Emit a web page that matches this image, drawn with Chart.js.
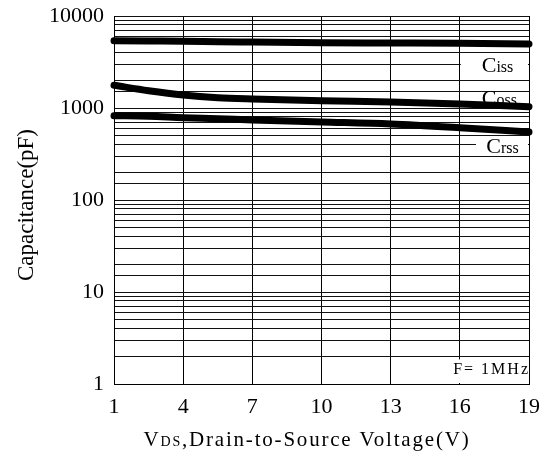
<!DOCTYPE html>
<html>
<head>
<meta charset="utf-8">
<script src="https://cdn.jsdelivr.net/npm/chart.js@4.4.0/dist/chart.umd.min.js"></script>
<style>
  html, body { margin: 0; padding: 0; background: #fff; }
  #wrap { width: 544px; height: 459px; }
</style>
</head>
<body>
<div id="wrap"><canvas id="cap"></canvas></div>
<script>
// drain-source voltage (V)
const vds = [1, 2.5, 4, 5.5, 7, 10, 13, 16, 19];
// capacitance (pF)
const ciss = [5390, 5350, 5310, 5260, 5215, 5125, 5090, 5050, 4960];
const coss = [1765, 1542, 1384, 1294, 1253, 1200, 1162, 1105, 1033];
const crss = [825, 814, 785, 765, 741, 705, 670, 611, 548];
const xTicks = [1, 4, 7, 10, 13, 16, 19];
const yLabels = [1, 10, 100, 1000, 10000];

function pts(vals) {
  return vds.map((v, i) => ({ x: v, y: vals[i] }));
}

function lineSet(name, vals) {
  return {
    label: name,
    data: pts(vals),
    borderColor: '#000',
    borderWidth: 7,
    borderCapStyle: 'round',
    pointRadius: 0,
    cubicInterpolationMode: 'monotone',
    clip: false
  };
}

const serif = 'Liberation Serif, Times New Roman, serif';

function subText(ctx, x, y, main, sub, mainSize, subSize) {
  ctx.font = mainSize + 'px ' + serif;
  ctx.fillText(main, x, y);
  const w = ctx.measureText(main).width;
  ctx.font = subSize + 'px ' + serif;
  ctx.fillText(sub, x + w, y);
}

const labelPlugin = {
  id: 'capLabels',
  beforeDatasetsDraw(chart) {
    const ctx = chart.ctx;
    const x = chart.scales.x, y = chart.scales.y;
    const px = v => x.getPixelForValue(v), py = v => y.getPixelForValue(v);
    ctx.save();
    ctx.fillStyle = '#fff';
    // label boxes hide the grid under the text
    ctx.fillRect(px(16) + 1, py(3800), px(19) - px(16) - 2, py(2150) - py(3800));
    ctx.fillRect(px(16.7), py(470), px(19) - px(16.7) - 1, py(330) - py(470));
    ctx.fillRect(px(15.3), py(1.85), px(19) - px(15.3) - 1, py(1) - py(1.85) - 1);

    ctx.fillStyle = '#000';
    ctx.textBaseline = 'alphabetic';
    ctx.textAlign = 'left';
    subText(ctx, px(16.95), py(2460), 'C', 'iss', 22, 16);
    subText(ctx, px(16.95), py(1090), 'C', 'oss', 22, 16);
    subText(ctx, px(17.15), py(324), 'C', 'rss', 22, 16);

    ctx.textAlign = 'right';
    ctx.letterSpacing = '2px';
    ctx.font = '16px ' + serif;
    ctx.fillText('F= 1MHz', px(19) + 1, py(1.27));
    ctx.restore();
  },
  afterDraw(chart) {
    const ctx = chart.ctx;
    ctx.save();
    ctx.fillStyle = '#000';
    ctx.textBaseline = 'middle';

    // y axis title
    ctx.save();
    ctx.translate(27, 205);
    ctx.rotate(-Math.PI / 2);
    ctx.textAlign = 'center';
    ctx.font = '23px ' + serif;
    ctx.fillText('Capacitance(pF)', 0, 0);
    ctx.restore();

    // x axis title, with small "DS"
    ctx.textAlign = 'left';
    ctx.letterSpacing = '1.8px';
    const rest = ',Drain-to-Source Voltage(V)';
    ctx.font = '21px ' + serif;
    const wV = ctx.measureText('V').width;
    const wR = ctx.measureText(rest).width;
    ctx.font = '14px ' + serif;
    const wD = ctx.measureText('DS').width;
    const sx = 307 - (wV + wD + wR) / 2;
    const sy = 440;
    ctx.font = '21px ' + serif;
    ctx.fillText('V', sx, sy);
    ctx.font = '14px ' + serif;
    ctx.fillText('DS', sx + wV, sy + 2);
    ctx.font = '21px ' + serif;
    ctx.fillText(rest, sx + wV + wD, sy);
    ctx.restore();
  }
};

new Chart(document.getElementById('cap'), {
  type: 'line',
  data: {
    datasets: [lineSet('Ciss', ciss), lineSet('Coss', coss), lineSet('Crss', crss)]
  },
  options: {
    responsive: true,
    maintainAspectRatio: false,
    animation: false,
    layout: { padding: { top: 16, right: 15, left: 0, bottom: 0 } },
    plugins: { legend: { display: false }, tooltip: { enabled: false } },
    scales: {
      x: {
        type: 'linear',
        min: 1,
        max: 19,
        afterFit: s => { s.height = 75; s.paddingLeft = 0; s.paddingRight = 0; },
        afterBuildTicks: s => { s.ticks = xTicks.map(v => ({ value: v })); },
        grid: { color: '#000', lineWidth: 1, drawTicks: false },
        border: { color: '#000', width: 1 },
        ticks: { color: '#000', padding: 10, font: { family: serif, size: 22 } }
      },
      y: {
        type: 'logarithmic',
        min: 1,
        max: 10000,
        afterFit: s => { s.width = 114; s.paddingTop = 0; s.paddingBottom = 0; },
        grid: { color: '#111', lineWidth: 1, drawTicks: false },
        border: { color: '#000', width: 1 },
        ticks: {
          color: '#000',
          padding: 10,
          autoSkip: false,
          font: { family: serif, size: 22 },
          callback: v => yLabels.includes(v) ? String(v) : ''
        }
      }
    }
  },
  plugins: [labelPlugin]
});
</script>
</body>
</html>
